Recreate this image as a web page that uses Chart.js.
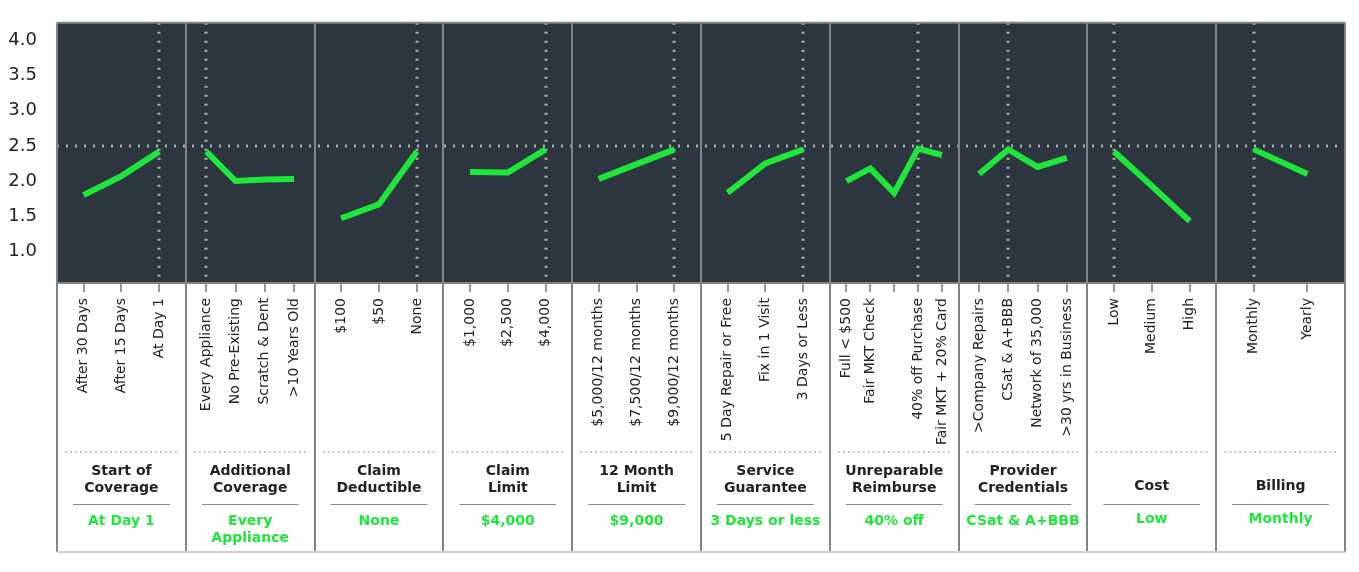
<!DOCTYPE html>
<html>
<head>
<meta charset="utf-8">
<script src="https://cdn.jsdelivr.net/npm/chart.js@4"></script>
<style>
  body { margin: 0; background: #fff; }
</style>
</head>
<body>
<canvas id="chart" width="1359" height="572"></canvas>
<script>
// attribute panels, one line per panel
const titles = [
  ['Start of', 'Coverage'], ['Additional', 'Coverage'], ['Claim', 'Deductible'], ['Claim', 'Limit'],
  ['12 Month', 'Limit'], ['Service', 'Guarantee'], ['Unreparable', 'Reimburse'], ['Provider', 'Credentials'],
  ['Cost'], ['Billing']
];
const winners = [
  ['At Day 1'], ['Every', 'Appliance'], ['None'], ['$4,000'], ['$9,000'],
  ['3 Days or less'], ['40% off'], ['CSat & A+BBB'], ['Low'], ['Monthly']
];
const levels = [
  ['After 30 Days', 'After 15 Days', 'At Day 1'],
  ['Every Appliance', 'No Pre-Existing', 'Scratch & Dent', '>10 Years Old'],
  ['$100', '$50', 'None'],
  ['$1,000', '$2,500', '$4,000'],
  ['$5,000/12 months', '$7,500/12 months', '$9,000/12 months'],
  ['5 Day Repair or Free', 'Fix in 1 Visit', '3 Days or Less'],
  ['Full < $500', 'Fair MKT Check', '', '40% off Purchase', 'Fair MKT + 20% Card'],
  ['>Company Repairs', 'CSat & A+BBB', 'Network of 35,000', '>30 yrs in Business'],
  ['Low', 'Medium', 'High'],
  ['Monthly', 'Yearly']
];
const values = [
  [1.8, 2.07, 2.42],
  [2.42, 2.0, 2.02, 2.03],
  [1.47, 1.67, 2.42],
  [2.13, 2.12, 2.45],
  [2.03, 2.24, 2.45],
  [1.83, 2.25, 2.45],
  [2.0, 2.18, 1.83, 2.46, 2.37],
  [2.1, 2.45, 2.2, 2.33],
  [2.42, 1.93, 1.43],
  [2.45, 2.1]
];
const selected = [2, 0, 2, 2, 2, 2, 3, 1, 0, 0];
const yTicks = [1, 1.5, 2, 2.5, 3, 3.5, 4];
const refLine = 2.5;

const FONT = 'DejaVu Sans';
const GREEN = '#1fe63a';

const xPos = (i, j, n) => i + (j + 0.7) / (n + 0.4);
const tickVals = [];
const tickLabels = [];
levels.forEach((lv, i) => lv.forEach((l, j) => { tickVals.push(xPos(i, j, lv.length)); tickLabels.push(l); }));

const datasets = values.map((vals, i) => ({
  data: vals.map((v, j) => ({ x: xPos(i, j, vals.length), y: v })),
  borderColor: GREEN,
  borderWidth: 6,
  pointRadius: 0,
  tension: 0
}));

const panelPlugin = {
  id: 'panels',
  beforeDatasetsDraw(chart) {
    const { ctx, chartArea: a, scales: { x, y } } = chart;
    ctx.save();
    ctx.fillStyle = '#2e3640';
    ctx.fillRect(a.left, a.top, a.right - a.left, a.bottom - a.top);
    ctx.strokeStyle = '#a9aeb3';
    ctx.lineWidth = 3;
    ctx.setLineDash([2, 7]);
    ctx.beginPath();
    const yr = Math.round(y.getPixelForValue(refLine));
    ctx.moveTo(a.left, yr); ctx.lineTo(a.right, yr);
    selected.forEach((s, i) => {
      const px = Math.round(x.getPixelForValue(xPos(i, s, levels[i].length)));
      ctx.moveTo(px, a.top); ctx.lineTo(px, a.bottom);
    });
    ctx.stroke();
    ctx.restore();
  },
  afterDraw(chart) {
    const { ctx, chartArea: a, scales: { x } } = chart;
    const bottom = 552;
    ctx.save();
    for (let i = 0; i < titles.length; i++) {
      const l = x.getPixelForValue(i), r = x.getPixelForValue(i + 1), c = (l + r) / 2;
      // dotted divider
      ctx.strokeStyle = '#c8c8c8';
      ctx.lineWidth = 2;
      ctx.setLineDash([2, 3]);
      ctx.beginPath(); ctx.moveTo(l + 8, 452); ctx.lineTo(r - 8, 452); ctx.stroke();
      ctx.setLineDash([]);
      // title
      ctx.fillStyle = '#222';
      ctx.font = 'bold 14px ' + FONT;
      ctx.textAlign = 'center';
      ctx.textBaseline = 'middle';
      const t = titles[i];
      if (t.length === 2) { ctx.fillText(t[0], c, 471); ctx.fillText(t[1], c, 488); }
      else ctx.fillText(t[0], c, 486);
      ctx.strokeStyle = '#8a8a8a';
      ctx.lineWidth = 1;
      ctx.beginPath(); ctx.moveTo(l + 16, 504.5); ctx.lineTo(r - 16, 504.5); ctx.stroke();
      ctx.fillStyle = GREEN;
      const w = winners[i];
      const wy = t.length === 2 ? 521 : 519;
      w.forEach((s, k) => ctx.fillText(s, c, wy + k * 17));
    }
    // panel borders
    ctx.strokeStyle = '#7d858c';
    ctx.lineWidth = 2;
    ctx.beginPath();
    for (let i = 0; i <= titles.length; i++) {
      const px = Math.round(x.getPixelForValue(i));
      ctx.moveTo(px, a.top); ctx.lineTo(px, bottom);
    }
    ctx.moveTo(a.left, a.top); ctx.lineTo(a.right, a.top);
    ctx.moveTo(a.left, a.bottom); ctx.lineTo(a.right, a.bottom);
    ctx.stroke();
    ctx.strokeStyle = '#cfd2d5';
    ctx.beginPath(); ctx.moveTo(a.left, bottom); ctx.lineTo(a.right, bottom); ctx.stroke();
    ctx.restore();
  }
};

new Chart(document.getElementById('chart'), {
  type: 'line',
  data: { datasets },
  options: {
    responsive: false,
    animation: false,
    layout: { padding: { left: 7, top: 15, right: 14, bottom: 122 } },
    plugins: { legend: { display: false }, tooltip: { enabled: false } },
    scales: {
      x: {
        type: 'linear', min: 0, max: titles.length,
        afterBuildTicks: s => { s.ticks = tickVals.map(v => ({ value: v })); },
        afterFit: s => { s.height = 167; },
        border: { display: false },
        grid: { drawOnChartArea: false, tickLength: 9, color: '#999', lineWidth: 2 },
        ticks: {
          minRotation: 90, maxRotation: 90, autoSkip: false, padding: 6,
          color: '#222', font: { family: FONT, size: 14 },
          callback: (v, idx) => tickLabels[idx]
        }
      },
      y: {
        min: 0.55, max: 4.25,
        afterBuildTicks: s => { s.ticks = yTicks.map(v => ({ value: v })); },
        afterFit: s => { s.width = 50; },
        border: { display: false },
        grid: { display: false },
        ticks: { color: '#222', font: { family: FONT, size: 18 }, padding: 12 }
      }
    }
  },
  plugins: [panelPlugin]
});
</script>
</body>
</html>
